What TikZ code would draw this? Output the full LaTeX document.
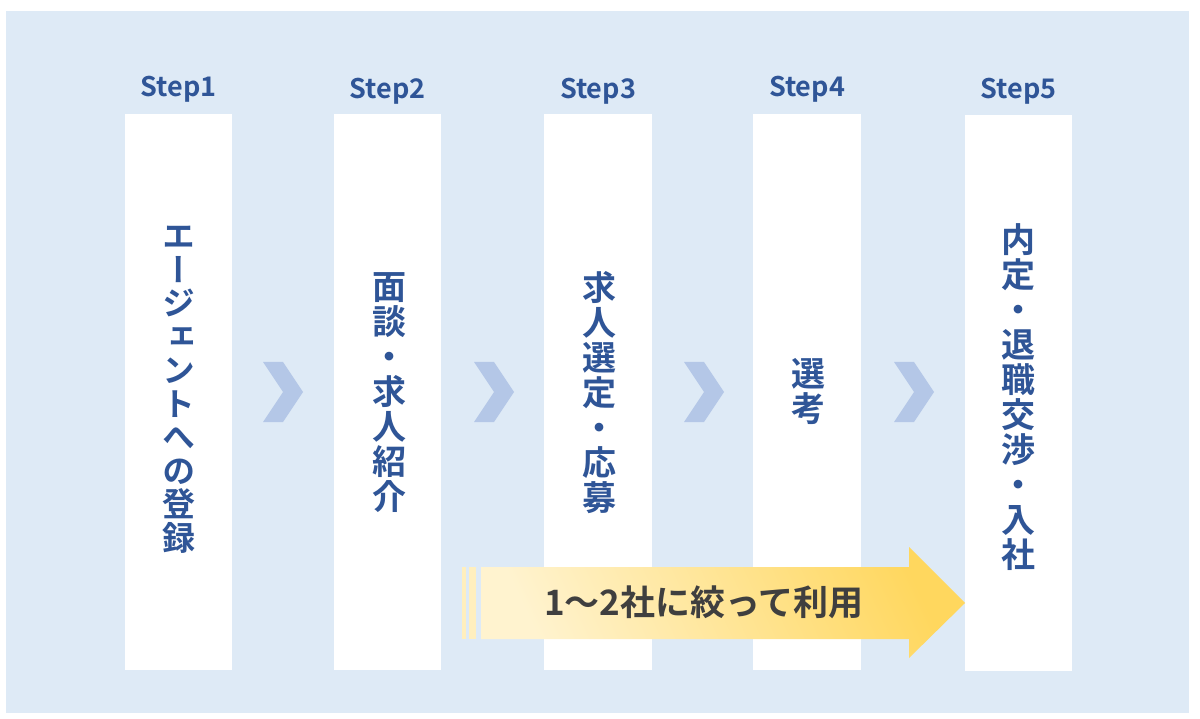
\documentclass[tikz,border=0pt]{standalone}
\usepackage{fontspec}
\newfontfamily\jpb{Noto Sans CJK JP Bold}
\newfontfamily\jpv[RawFeature=+vert]{Noto Sans CJK JP Bold}
\definecolor{bgc}{HTML}{DEEAF6}
\definecolor{chev}{HTML}{B4C7E7}
\definecolor{stepc}{HTML}{2F5597}
\definecolor{boxtext}{HTML}{2F5597}
\definecolor{arlight}{HTML}{FFF3CF}
\definecolor{ardark}{HTML}{FFD75E}
\definecolor{artext}{HTML}{3F3F3F}
\tikzset{
  stepbox/.style={rectangle, fill=white, draw=none, inner sep=0pt,
    minimum width=107pt, minimum height=556pt},
  steplabel/.style={font=\jpb\fontsize{27}{27}\selectfont, text=stepc, anchor=base, inner sep=0pt},
  vtext/.style={align=center, text=boxtext, inner sep=0pt},
  chevron/.style={fill=chev, draw=none},
}
\begin{document}
\begin{tikzpicture}[x=1pt,y=-1pt]
\useasboundingbox (0,0) rectangle (1200,719);
\fill[bgc] (6,11) rectangle (1189,713);
% boxes
\node[stepbox] (b1) at (178.5,392) {};
\node[stepbox] (b2) at (387.5,392) {};
\node[stepbox, minimum width=108pt] (b3) at (598,392) {};
\node[stepbox, minimum width=108pt] (b4) at (807,392) {};
\node[stepbox] (b5) at (1018.5,393) {};
% step labels
\node[steplabel] (s1) at (178.5,97) {Step1};
\node[steplabel] (s2) at (387.5,99) {Step2};
\node[steplabel] (s3) at (598,99) {Step3};
\node[steplabel] (s4) at (807,97) {Step4};
\node[steplabel] (s5) at (1018.5,99) {Step5};
% chevrons
\foreach \cx in {263,474,684,894}{
  \fill[chevron] (\cx,362) -- (\cx+20,362) -- (\cx+40,392) -- (\cx+20,422) -- (\cx,422) -- (\cx+20,392) -- cycle;
}
% yellow arrow
\fill[arlight!85!ardark] (462,567) rectangle (466,639);
\fill[arlight!85!ardark] (469,567) rectangle (476,639);
\shade[left color=arlight, right color=ardark, shading angle=115, draw=none]
  (481,567) -- (909,567) -- (909,547) -- (965,603) -- (909,658) -- (909,639) -- (481,639) -- cycle;
\node[font=\jpb\fontsize{35}{35}\selectfont, text=artext, inner sep=0pt] (ar) at (704,602) {1～2社に絞って利用};
% vertical texts
\node[vtext, font=\jpv\fontsize{33}{33.5}\selectfont] (t1) at (178.5,390) {エ\\ー\\ジ\\ェ\\ン\\ト\\へ\\の\\登\\録};
\node[vtext, font=\jpv\fontsize{34}{35}\selectfont] (t2) at (389,393) {面\\談\\・\\求\\人\\紹\\介};
\node[vtext, font=\jpv\fontsize{34}{35}\selectfont] (t3) at (599,393) {求\\人\\選\\定\\・\\応\\募};
\node[vtext, font=\jpv\fontsize{34}{35}\selectfont] (t4) at (808,392) {選\\考};
\node[vtext, font=\jpv\fontsize{34}{35}\selectfont] (t5) at (1018.5,397) {内\\定\\・\\退\\職\\交\\渉\\・\\入\\社};
\end{tikzpicture}
\end{document}
